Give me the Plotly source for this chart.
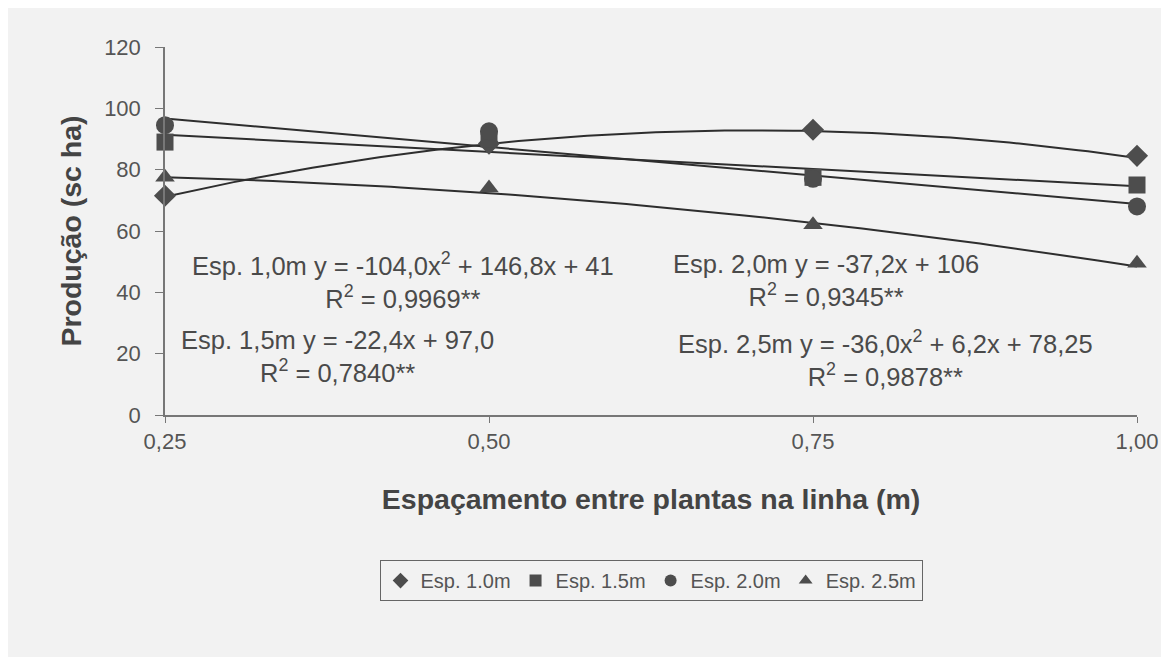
import numpy as np
import plotly.graph_objects as go

x_vals = [0.25, 0.50, 0.75, 1.00]
series_names = ["Esp. 1.0m", "Esp. 1.5m", "Esp. 2.0m", "Esp. 2.5m"]
esp_10 = [71.5, 88.5, 93.0, 84.5]
esp_15 = [89.0, 90.0, 77.5, 75.0]
esp_20 = [94.5, 92.5, 77.0, 68.0]
esp_25 = [77.5, 74.0, 62.0, 49.5]
# trend equations printed on the chart: coefficients (a2, a1, a0)
coef_10 = [-104.0, 146.8, 41.0]
coef_15 = [0.0, -22.4, 97.0]
coef_20 = [0.0, -37.2, 106.0]
coef_25 = [-36.0, 6.2, 78.25]
eq_texts = [
    "Esp. 1,0m y = -104,0x<sup>2</sup> + 146,8x + 41<br>R<sup>2</sup> = 0,9969**",
    "Esp. 1,5m y = -22,4x + 97,0<br>R<sup>2</sup> = 0,7840**",
    "Esp. 2,0m y = -37,2x + 106<br>R<sup>2</sup> = 0,9345**",
    "Esp. 2,5m y = -36,0x<sup>2</sup> + 6,2x + 78,25<br>R<sup>2</sup> = 0,9878**",
]
tick_vals = [0.25, 0.50, 0.75, 1.00]
tick_text = ["0,25", "0,50", "0,75", "1,00"]

symbols = ["diamond", "square", "circle", "triangle-up"]
sizes = [17, 17, 18, 17]
data = [esp_10, esp_15, esp_20, esp_25]
coefs = [coef_10, coef_15, coef_20, coef_25]

fig = go.Figure()
xs = np.linspace(0.25, 1.0, 100)
for c in coefs:
    fig.add_trace(go.Scatter(x=xs, y=np.polyval(c, xs), mode="lines",
                             line=dict(color="#2e2e2e", width=2),
                             showlegend=False, hoverinfo="skip"))
for name, ys, sym, sz in zip(series_names, data, symbols, sizes):
    fig.add_trace(go.Scatter(x=x_vals, y=ys, mode="markers", name=name,
                             cliponaxis=False,
                             marker=dict(symbol=sym, size=sz, color="#4d4d4d")))

ann_pos = [(0.434, 44.0), (0.383, 19.0), (0.760, 44.0), (0.806, 18.3)]
for txt, (ax, ay) in zip(eq_texts, ann_pos):
    fig.add_annotation(x=ax, y=ay, text=txt, showarrow=False, align="center",
                       font=dict(family="Liberation Sans, Arial", size=25.5, color="#4a4a4a"))

fig.update_layout(
    width=1169, height=657,
    paper_bgcolor="#f2f2f2", plot_bgcolor="#f2f2f2",
    margin=dict(l=157, r=40, t=39, b=250),
    font=dict(family="Liberation Sans, Arial", color="#555555"),
    legend=dict(orientation="h", x=0.5, xanchor="center", y=-0.45, yanchor="middle",
                bordercolor="#666666", borderwidth=1, bgcolor="#f2f2f2",
                font=dict(size=20, color="#555555"), itemsizing="constant",
                itemwidth=30, tracegroupgap=0),
    xaxis=dict(range=[0.25, 1.0], tickvals=tick_vals, ticktext=tick_text,
               showgrid=False, zeroline=False, showline=True, linecolor="#777777",
               linewidth=1.5, ticks="outside", ticklen=6, tickcolor="#777777",
               tickfont=dict(size=22, color="#555555"),
               title=dict(text="<b>Espaçamento entre plantas na linha (m)</b>",
                          font=dict(size=28.5, color="#444444"), standoff=36)),
    yaxis=dict(range=[0, 120], dtick=20, showgrid=False, zeroline=False,
               showline=True, linecolor="#777777", linewidth=1.5, ticks="outside",
               ticklen=8, tickcolor="#777777", tickfont=dict(size=22, color="#555555"),
               ticklabelstandoff=10,
               title=dict(text="<b>Produção (sc ha)</b>",
                          font=dict(size=28.5, color="#444444"), standoff=14)),
)
fig.write_html("out.html")
